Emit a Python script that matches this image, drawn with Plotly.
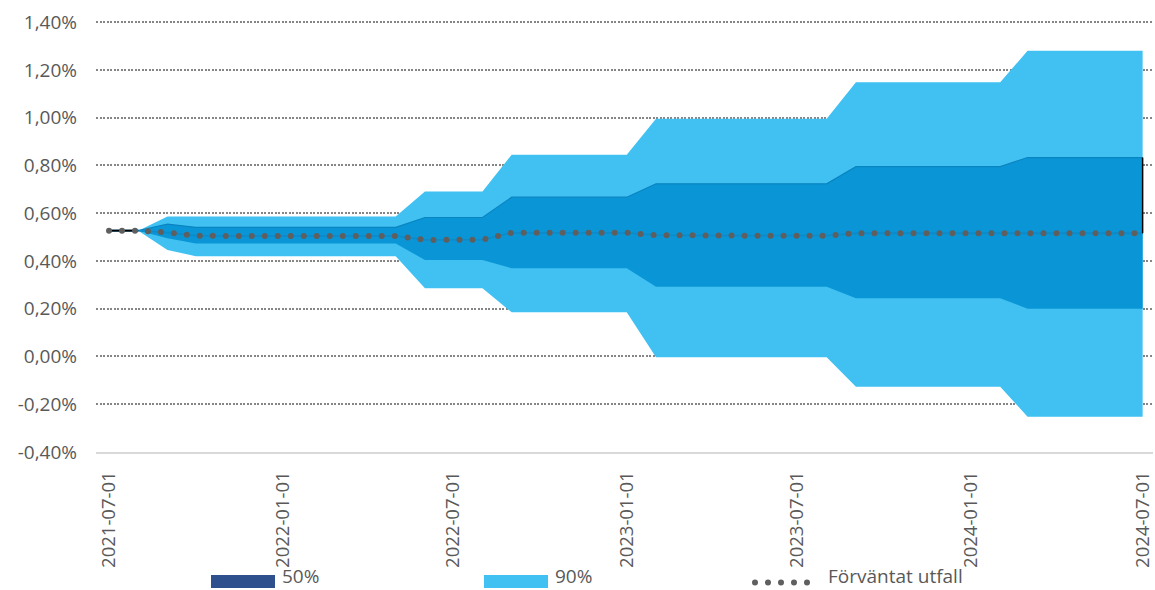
import plotly.graph_objects as go
import pandas as pd

# ---------------- data ----------------
months = pd.date_range("2021-07-01", "2024-07-01", freq="MS").strftime("%Y-%m-%d").tolist()

median = [0.527, 0.527, 0.519, 0.506, 0.505, 0.505, 0.505, 0.505, 0.505, 0.505, 0.505,
          0.488, 0.488, 0.489,
          0.518, 0.518, 0.518, 0.518, 0.518,
          0.508, 0.506, 0.506, 0.506, 0.506, 0.506, 0.506,
          0.516, 0.516, 0.516, 0.516, 0.516, 0.516,
          0.516, 0.516, 0.516, 0.516, 0.516]

upper90 = [0.527, 0.527, 0.586, 0.586, 0.586, 0.586, 0.586, 0.586, 0.586, 0.586, 0.586,
           0.691, 0.691, 0.691,
           0.845, 0.845, 0.845, 0.845, 0.845,
           0.996, 0.996, 0.996, 0.996, 0.996, 0.996, 0.996,
           1.148, 1.148, 1.148, 1.148, 1.148, 1.148,
           1.280, 1.280, 1.280, 1.280, 1.280]

lower90 = [0.527, 0.527, 0.446, 0.420, 0.420, 0.420, 0.420, 0.420, 0.420, 0.420, 0.420,
           0.286, 0.286, 0.286,
           0.185, 0.185, 0.185, 0.185, 0.185,
           -0.003, -0.003, -0.003, -0.003, -0.003, -0.003, -0.003,
           -0.127, -0.127, -0.127, -0.127, -0.127, -0.127,
           -0.252, -0.252, -0.252, -0.252, -0.252]

upper50 = [0.527, 0.527, 0.554, 0.541, 0.541, 0.541, 0.541, 0.541, 0.541, 0.541, 0.541,
           0.582, 0.582, 0.582,
           0.667, 0.667, 0.667, 0.667, 0.667,
           0.723, 0.723, 0.723, 0.723, 0.723, 0.723, 0.723,
           0.795, 0.795, 0.795, 0.795, 0.795, 0.795,
           0.833, 0.833, 0.833, 0.833, 0.833]

lower50 = [0.527, 0.527, 0.495, 0.473, 0.473, 0.473, 0.473, 0.473, 0.473, 0.473, 0.473,
           0.404, 0.404, 0.404,
           0.369, 0.369, 0.369, 0.369, 0.369,
           0.292, 0.292, 0.292, 0.292, 0.292, 0.292, 0.292,
           0.244, 0.244, 0.244, 0.244, 0.244, 0.244,
           0.200, 0.200, 0.200, 0.200, 0.200]

outcome_months = ["2021-07-01", "2021-08-01"]
outcome = [0.527, 0.527]

x_tick_vals = ["2021-07-01", "2022-01-01", "2022-07-01", "2023-01-01",
               "2023-07-01", "2024-01-01", "2024-07-01"]
y_tick_vals = [-0.4, -0.2, 0.0, 0.2, 0.4, 0.6, 0.8, 1.0, 1.2, 1.4]
y_tick_text = ["-0,40%", "-0,20%", "0,00%", "0,20%", "0,40%",
               "0,60%", "0,80%", "1,00%", "1,20%", "1,40%"]

legend_labels = ["50%", "90%", "Förväntat utfall"]

# ---------------- styles ----------------
C90 = "#40C1F2"
C50 = "#0A96D6"
C50_EDGE = "#0A84C0"
C50_LEG = "#2E508C"
CMED = "#5F5F5F"
TXT = "#595959"
FONT = "Open Sans"

W, H = 1155, 590
ML, MR, MT, MB = 96, 2, 20, 138

def px(xp):
    return (xp - ML) / (W - ML - MR)

def py(yp):
    return (H - MB - yp) / (H - MT - MB)

fig = go.Figure()

fig.add_trace(go.Scatter(x=months, y=lower90, mode="lines", line=dict(width=0, color=C90),
                         hoverinfo="skip", showlegend=False))
fig.add_trace(go.Scatter(x=months, y=upper90, mode="lines", line=dict(width=0, color=C90),
                         fill="tonexty", fillcolor=C90, name="90%", showlegend=False))
fig.add_trace(go.Scatter(x=months, y=lower50, mode="lines", line=dict(width=0, color=C50),
                         hoverinfo="skip", showlegend=False))
fig.add_trace(go.Scatter(x=months, y=upper50, mode="lines", line=dict(width=1.2, color=C50_EDGE),
                         fill="tonexty", fillcolor=C50, name="50%", showlegend=False))
fig.add_trace(go.Scatter(x=months, y=median, mode="lines", line=dict(width=1.8, color="#0B8BCB"),
                         hoverinfo="skip", showlegend=False))
fig.add_trace(go.Scatter(x=outcome_months, y=outcome, mode="lines",
                         line=dict(width=2, color="#000000"), showlegend=False))
fig.add_trace(go.Scatter(x=[months[-1], months[-1]], y=[median[-1], upper50[-1]], mode="lines",
                         line=dict(width=1.5, color="#000000"), hoverinfo="skip", showlegend=False))
fig.add_trace(go.Scatter(x=months, y=median, mode="lines", name=legend_labels[2],
                         line=dict(width=6, color=CMED, dash="0px,13px"), showlegend=False))

# ---------------- manual legend ----------------
shapes = [
    dict(type="rect", xref="paper", yref="paper", x0=px(211), x1=px(275), y0=py(588), y1=py(575),
         fillcolor=C50_LEG, line=dict(width=0)),
    dict(type="rect", xref="paper", yref="paper", x0=px(484), x1=px(548), y0=py(588), y1=py(575),
         fillcolor=C90, line=dict(width=0)),
    dict(type="line", xref="paper", yref="paper", x0=px(755), x1=px(812), y0=py(582.5), y1=py(582.5),
         line=dict(width=6, color=CMED, dash="0px,13px")),
]
annotations = []
for lbl, xl in zip(legend_labels, [281, 554, 827]):
    annotations.append(dict(text=lbl, x=px(xl), y=py(590), xref="paper", yref="paper",
                            xanchor="left", yanchor="bottom", showarrow=False, borderpad=0,
                            font=dict(family=FONT, size=19, color=TXT)))

fig.update_layout(
    width=W, height=H,
    margin=dict(l=ML, r=MR, t=MT, b=MB, pad=0, autoexpand=False),
    paper_bgcolor="white", plot_bgcolor="white",
    font=dict(family=FONT, size=19, color=TXT),
    showlegend=False,
    shapes=shapes,
    annotations=annotations,
    xaxis=dict(
        type="date", automargin=False,
        range=["2021-06-17 05:00", "2024-07-12 00:00"],
        tickvals=x_tick_vals, ticktext=x_tick_vals,
        tickangle=-90,
        showgrid=False, zeroline=False,
        showline=True, linecolor="#D9D9D9", linewidth=2,
        ticks="", ticklabelstandoff=10, ticklabeloverflow="allow",
        tickfont=dict(family=FONT, size=18.5, color=TXT),
    ),
    yaxis=dict(
        automargin=False,
        range=[-0.4, 1.409],
        tickvals=y_tick_vals, ticktext=y_tick_text,
        showgrid=True, gridcolor="#858585", gridwidth=2, griddash="2px,1.5px",
        zeroline=False, showline=False,
        ticks="", ticklabelstandoff=18,
        tickfont=dict(family=FONT, size=19, color=TXT),
    ),
)

post = """
document.body.style.margin = '0';
var gd = document.getElementById('{plot_id}');
function roundDots(){
  gd.querySelectorAll('path').forEach(function(p){
    var d = p.style.strokeDasharray || '';
    if (d.indexOf('0px') === 0 || d.indexOf('0,') === 0 || d.indexOf('0 ') === 0) {
      p.style.strokeLinecap = 'round';
    }
  });
}
roundDots();
gd.on && gd.on('plotly_afterplot', roundDots);
"""

fig.write_html("out.html", post_script=post, config={"displayModeBar": False})
